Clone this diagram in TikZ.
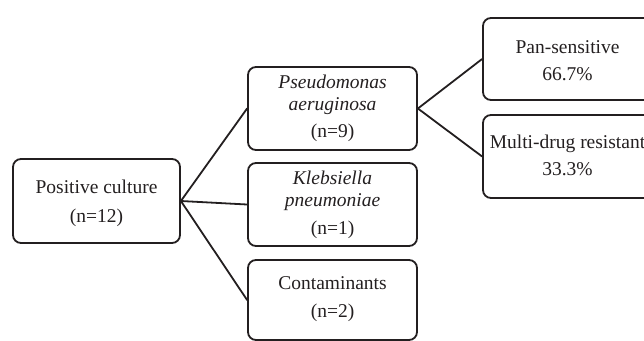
\documentclass[tikz,border=0pt]{standalone}
\usepackage{fontspec}
\setmainfont{Liberation Serif}
\definecolor{ink}{HTML}{231F20}
\tikzset{
  box/.style={draw=ink, line width=1.8pt, rounded corners=8pt, rectangle, inner sep=0pt},
  txt/.style={anchor=base, inner sep=0pt, text=ink, font=\fontsize{19.5}{23}\selectfont},
  link/.style={draw=ink, line width=1.8pt, line cap=round}
}
\begin{document}
\begin{tikzpicture}[x=1pt, y=-1pt]
  \useasboundingbox (0,0) rectangle (644,340);
  \clip (0,0) rectangle (644,340);

  % boxes
  \node[box, minimum width=167pt, minimum height=84pt] (pos) at (96.5,201) {};
  \node[box, minimum width=169pt, minimum height=83pt] (pse) at (332.5,108.5) {};
  \node[box, minimum width=169pt, minimum height=83pt] (kle) at (332.5,204.5) {};
  \node[box, minimum width=169pt, minimum height=80pt] (con) at (332.5,300) {};
  \node[box, minimum width=169pt, minimum height=82pt] (pan) at (567.5,59) {};
  \node[box, minimum width=169pt, minimum height=83pt] (mdr) at (567.5,156.5) {};

  % connectors
  \draw[link] (pos.east) -- (pse.west);
  \draw[link] (pos.east) -- (kle.west);
  \draw[link] (pos.east) -- (con.west);
  \draw[link] (pse.east) -- (pan.west);
  \draw[link] (pse.east) -- (mdr.west);

  % labels
  \node[txt] (posA) at (96.5,193) {Positive culture};
  \node[txt] (posB) at (96.5,222) {(n=12)};

  \node[txt] (pseA) at (332.5,88) {\itshape Pseudomonas};
  \node[txt] (pseB) at (332.5,110) {\itshape aeruginosa};
  \node[txt] (pseC) at (332.5,137) {(n=9)};

  \node[txt] (kleA) at (332.5,184) {\itshape Klebsiella};
  \node[txt] (kleB) at (332.5,206) {\itshape pneumoniae};
  \node[txt] (kleC) at (332.5,234) {(n=1)};

  \node[txt] (conA) at (332.5,289) {Contaminants};
  \node[txt] (conB) at (332.5,317) {(n=2)};

  \node[txt] (panA) at (567.5,53) {Pan-sensitive};
  \node[txt] (panB) at (567.5,80) {66.7\%};

  \node[txt] (mdrA) at (567.5,148) {Multi-drug resistant};
  \node[txt] (mdrB) at (567.5,175) {33.3\%};
\end{tikzpicture}
\end{document}
